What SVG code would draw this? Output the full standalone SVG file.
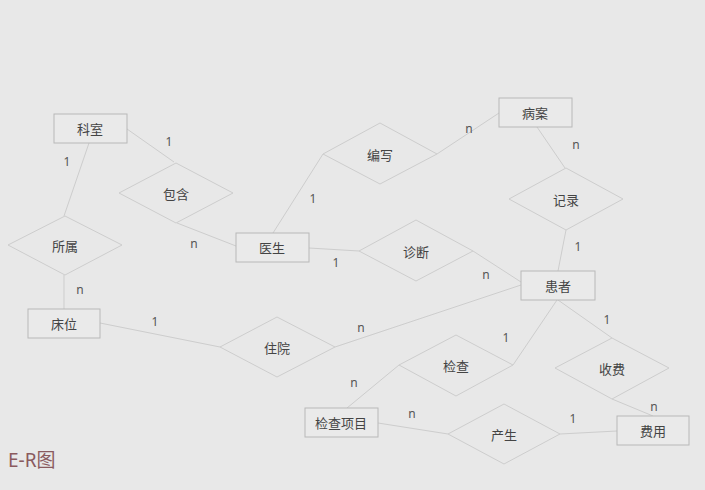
<svg xmlns="http://www.w3.org/2000/svg" width="705" height="490" viewBox="0 0 705 490">
<style>
.ent rect{fill:#eaeaea;stroke:#b8b8b8;stroke-width:1}
.rel polygon{fill:none;stroke:#cdcdcd;stroke-width:1}
.t{font-family:"Noto Sans CJK SC","Noto Sans",sans-serif;font-size:13px;fill:#444;text-anchor:middle;dominant-baseline:central}
#connectors line{stroke:#cdcdcd;stroke-width:1}
.c{font-family:"Noto Sans","DejaVu Sans",sans-serif;font-size:12px;fill:#555;text-anchor:middle;dominant-baseline:central}
</style>
<rect x="0" y="0" width="705" height="490" fill="#e8e8e8"/>
<g id="connectors">
<line x1="89" y1="143" x2="64" y2="216"/>
<line x1="127" y1="129" x2="174" y2="162"/>
<line x1="177" y1="223" x2="236" y2="246"/>
<line x1="64" y1="275" x2="64" y2="309"/>
<line x1="273" y1="233" x2="323" y2="154"/>
<line x1="437" y1="154" x2="499" y2="113"/>
<line x1="537" y1="127" x2="565" y2="168"/>
<line x1="566" y1="230" x2="558" y2="271"/>
<line x1="309" y1="248" x2="359" y2="251"/>
<line x1="473" y1="251" x2="521" y2="282"/>
<line x1="335" y1="347" x2="521" y2="285"/>
<line x1="100" y1="323" x2="220" y2="347"/>
<line x1="557" y1="300" x2="513" y2="365"/>
<line x1="558" y1="300" x2="612" y2="338"/>
<line x1="399" y1="365" x2="347" y2="408"/>
<line x1="378" y1="423" x2="448" y2="434"/>
<line x1="560" y1="434" x2="617" y2="431"/>
<line x1="612" y1="399" x2="653" y2="416"/>
<text class="c" x="67" y="161">1</text>
<text class="c" x="169" y="141">1</text>
<text class="c" x="194" y="243">n</text>
<text class="c" x="80" y="289">n</text>
<text class="c" x="155" y="321">1</text>
<text class="c" x="313" y="198">1</text>
<text class="c" x="469" y="128">n</text>
<text class="c" x="576" y="144">n</text>
<text class="c" x="578" y="246">1</text>
<text class="c" x="336" y="262">1</text>
<text class="c" x="486" y="274">n</text>
<text class="c" x="361" y="327">n</text>
<text class="c" x="506" y="337">1</text>
<text class="c" x="607" y="319">1</text>
<text class="c" x="354" y="382">n</text>
<text class="c" x="412" y="413">n</text>
<text class="c" x="573" y="418">1</text>
<text class="c" x="654" y="406">n</text>
</g>
<g id="keshi" class="ent"><rect x="54" y="114" width="73" height="29"/><text class="t" x="90" y="128.5">科室</text></g>
<g id="yisheng" class="ent"><rect x="236" y="233" width="73" height="29"/><text class="t" x="272" y="247.5">医生</text></g>
<g id="chuangwei" class="ent"><rect x="28" y="309" width="72" height="29"/><text class="t" x="64" y="323.5">床位</text></g>
<g id="bingan" class="ent"><rect x="499" y="98" width="73" height="29"/><text class="t" x="535" y="112.5">病案</text></g>
<g id="huanzhe" class="ent"><rect x="521" y="271" width="74" height="29"/><text class="t" x="558" y="285.5">患者</text></g>
<g id="jianchaxiangmu" class="ent"><rect x="305" y="408" width="73" height="29"/><text class="t" x="341" y="422.5">检查项目</text></g>
<g id="feiyong" class="ent"><rect x="617" y="416" width="72" height="29"/><text class="t" x="653" y="430.5">费用</text></g>
<g id="suoshu" class="rel"><polygon points="8,245 65,216 122,245 65,275"/><text class="t" x="65" y="245">所属</text></g>
<g id="baohan" class="rel"><polygon points="119,193 176,163 233,193 176,223"/><text class="t" x="176" y="193">包含</text></g>
<g id="bianxie" class="rel"><polygon points="323,154 380,123 437,154 380,184"/><text class="t" x="380" y="154">编写</text></g>
<g id="jilu" class="rel"><polygon points="509,199 566,168 623,199 566,230"/><text class="t" x="566" y="199">记录</text></g>
<g id="zhenduan" class="rel"><polygon points="359,251 416,220 473,251 416,281"/><text class="t" x="416" y="251">诊断</text></g>
<g id="zhuyuan" class="rel"><polygon points="220,347 277,317 335,347 277,377"/><text class="t" x="277" y="347">住院</text></g>
<g id="jiancha" class="rel"><polygon points="399,365 456,335 513,365 456,396"/><text class="t" x="456" y="365">检查</text></g>
<g id="shoufei" class="rel"><polygon points="555,368 612,338 669,368 612,399"/><text class="t" x="612" y="368">收费</text></g>
<g id="chansheng" class="rel"><polygon points="448,434 504,404 560,434 504,464"/><text class="t" x="504" y="434">产生</text></g>
<text x="8" y="467" font-family="'Noto Sans','Noto Sans CJK SC',sans-serif" font-size="19" fill="#8a5a5e">E-R图</text>
</svg>
